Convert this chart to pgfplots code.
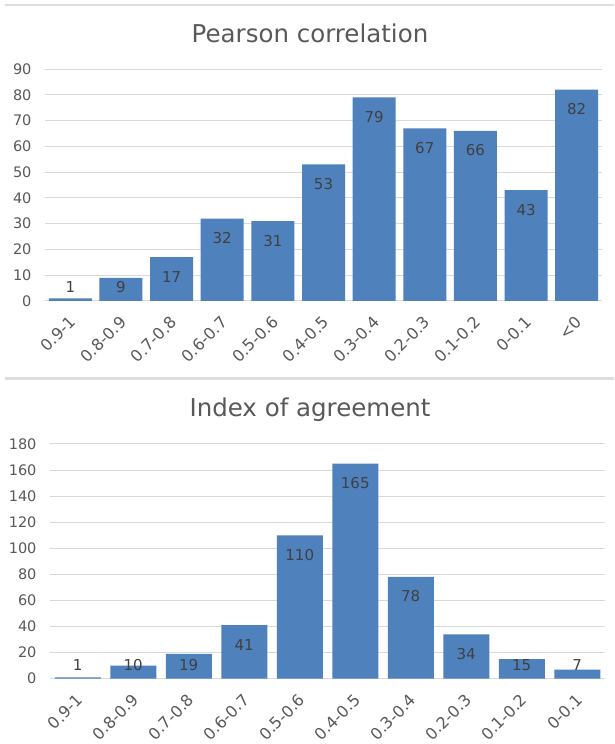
\documentclass[border=0pt]{standalone}
\usepackage{fontspec}
\setmainfont{DejaVu Sans}
\usepackage{pgfplots}
\usepackage{pgfplotstable}
\pgfplotsset{compat=1.18}
\definecolor{barblue}{HTML}{4F81BD}
\definecolor{gridgray}{HTML}{D9D9D9}
\definecolor{framegray}{HTML}{DDDDDD}
\definecolor{ticktext}{HTML}{595959}
\definecolor{labtext}{HTML}{404040}

\pgfplotstableread{
x y
0 1
1 9
2 17
3 32
4 31
5 53
6 79
7 67
8 66
9 43
10 82
}\pearson

\pgfplotstableread{
x y
0 1
1 10
2 19
3 41
4 110
5 165
6 78
7 34
8 15
9 7
}\agreement

\pgfplotsset{
  excelbar/.style={
    scale only axis,
    ybar,
    ymin=0,
    axis line style={draw=none},
    tick style={draw=none},
    major tick length=0pt,
    ymajorgrids,
    grid style={gridgray, line width=1pt},
    xtick=data,
    /pgf/number format/assume math mode=true,
    tick label style={text=ticktext},
    yticklabel style={anchor=east, xshift=-10pt, font=\fontsize{14.5}{17}\selectfont},
    xticklabel style={xshift=-2pt, yshift=-9pt, rotate=45, anchor=north east, font=\fontsize{16}{19}\selectfont},
    clip=false,
  },
}

\begin{document}
\begin{tikzpicture}[x=1pt,y=1pt]
\useasboundingbox (0,0) rectangle (614,744);
\fill[white] (0,0) rectangle (614,744);
\draw[framegray, line width=1.2pt] (5,739) -- (614,739);
\draw[framegray, line width=2.5pt] (5,365.5) -- (614,365.5);

\node[anchor=base, text=ticktext, font=\fontsize{24.5}{29}\selectfont] at (310,701) {Pearson correlation};
\node[anchor=base, text=ticktext, font=\fontsize{24.5}{29}\selectfont] at (310,327) {Index of agreement};

\begin{axis}[
  excelbar,
  at={(45pt,443pt)}, anchor=south west,
  width=557pt, height=232pt,
  ymax=90, ytick={0,10,...,90},
  xmin=-0.5, xmax=10.5,
  bar width=43pt,
  xticklabels={0.9-1,0.8-0.9,0.7-0.8,0.6-0.7,0.5-0.6,0.4-0.5,0.3-0.4,0.2-0.3,0.1-0.2,0-0.1,<0},
  nodes near coords,
  visualization depends on={rawy \as \rawy},
  every node near coord/.append style={anchor=center, text=labtext,
    font=\fontsize{15}{18}\selectfont,
    yshift={-1*min(19.5,\rawy*2.578-14)}},
]
\addplot[fill=barblue, draw=none] table[x=x, y=y] {\pearson};
\end{axis}

\begin{axis}[
  excelbar,
  at={(50pt,65.3pt)}, anchor=south west,
  width=555pt, height=234.7pt,
  ymax=180, ytick={0,20,...,180},
  xmin=-0.5, xmax=9.5,
  bar width=46pt,
  xticklabels={0.9-1,0.8-0.9,0.7-0.8,0.6-0.7,0.5-0.6,0.4-0.5,0.3-0.4,0.2-0.3,0.1-0.2,0-0.1},
  nodes near coords,
  visualization depends on={rawy \as \rawy},
  every node near coord/.append style={anchor=center, text=labtext,
    font=\fontsize{15}{18}\selectfont,
    yshift={-1*min(19.5,\rawy*1.304-14)}},
]
\addplot[fill=barblue, draw=none] table[x=x, y=y] {\agreement};
\end{axis}
\end{tikzpicture}
\end{document}
